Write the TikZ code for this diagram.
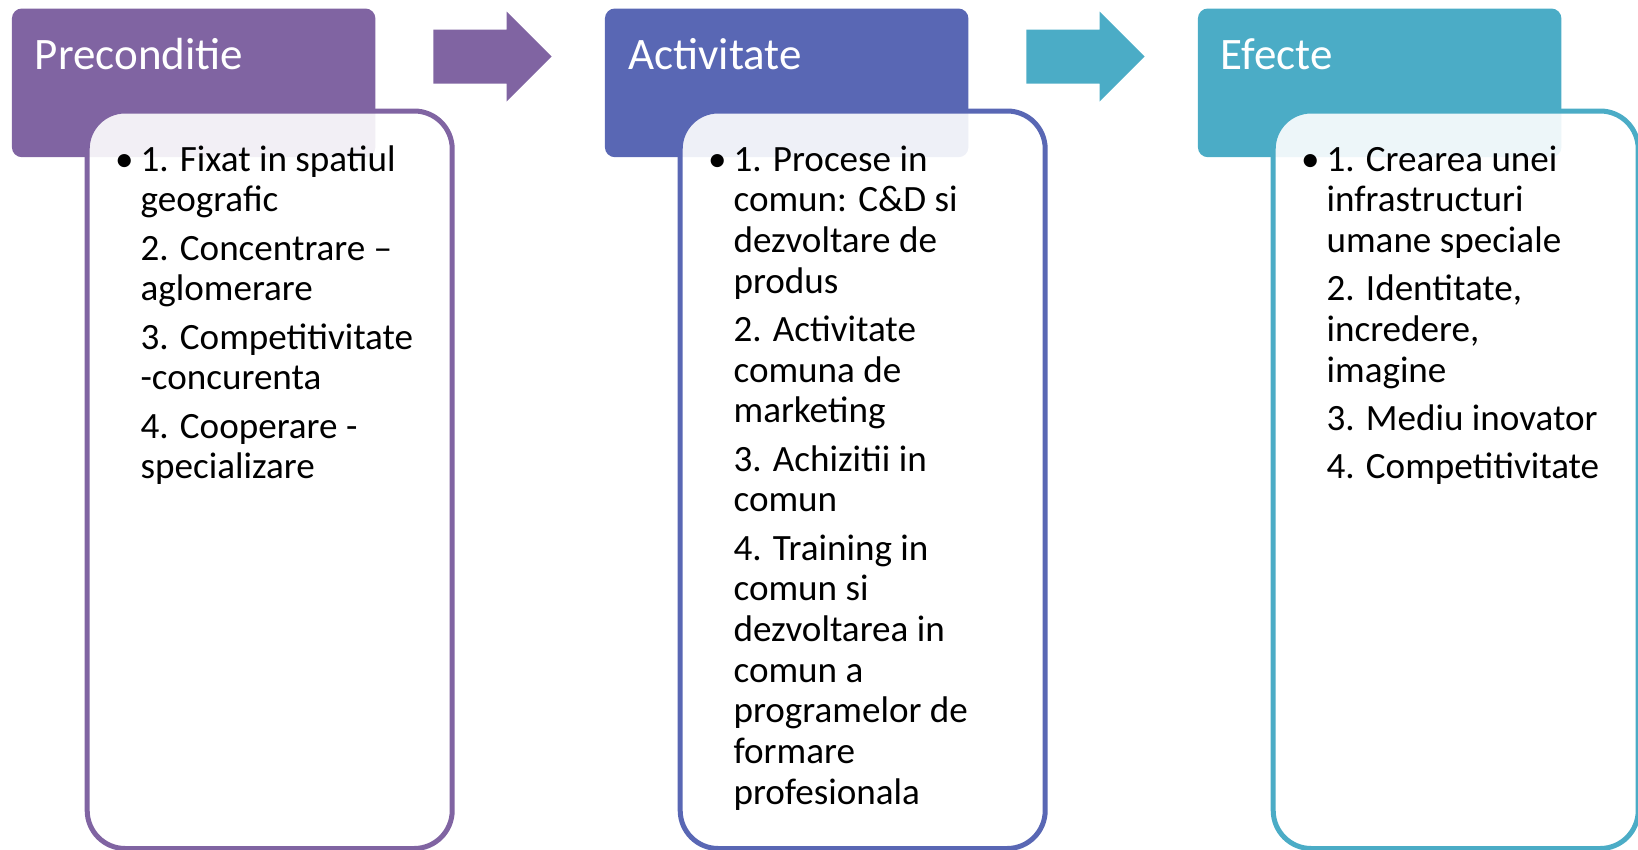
\documentclass[tikz,border=0pt]{standalone}
\usepackage{fontspec}
\setmainfont{Carlito}
\usepackage{tikz}
\usetikzlibrary{positioning}
\definecolor{prepurple}{HTML}{8064A2}
\definecolor{actblue}{HTML}{5967B4}
\definecolor{efteal}{HTML}{4BACC6}
\newcommand\headfont{\fontsize{45pt}{50pt}\selectfont}
\newcommand\bodyfont{\fontsize{37.1pt}{40.7pt}\selectfont}
\newcommand\blt{\llap{\textbullet\hspace{7pt}}}
\tikzset{
  % titluri
  hdr/.style={rectangle,rounded corners=10pt,fill=#1,inner sep=0pt,
              minimum width=363.5pt,minimum height=148.7pt,anchor=north west},
  hdrt/.style={anchor=base west,inner sep=0pt,text=white,font=\headfont},
  % casete (ancora = linia de baza a ultimului rand)
  card/.style={rectangle,rounded corners=38pt,draw=#1,line width=5pt,
               fill=white,fill opacity=0.9,inner sep=0pt,
               minimum width=365pt,minimum height=737.5pt,anchor=north west},
  cardt/.style={anchor=base west,inner sep=0pt,align=left,text=black,
                font=\bodyfont},
  blk/.style={fill=#1},
}
\begin{document}
\begin{tikzpicture}[x=1pt,y=-1pt]
\useasboundingbox (0,0) rectangle (1638,849);
  \node[hdr=prepurple] (pre) at (11.7,8.3) {};
  \node[hdr=actblue] (act) at (604.7,8.3) {};
  \node[hdr=efteal] (efe) at (1197.7,8.3) {};
  \node[hdrt] (preT) at (34.7,69.3) {Preconditie};
  \node[hdrt] (actT) at (628.2,69.3) {Activitate};
  \node[hdrt] (efeT) at (1220.7,69.3) {Efecte};
  \node[card=prepurple] (preC) at (84.7,108.5) {};
  \node[card=actblue] (actC) at (677.7,108.5) {};
  \node[card=efteal] (efeC) at (1270.7,108.5) {};
  \node[cardt] (preL) at (140.4,478.7) {\blt 1. Fixat in spatiul\\ geografic\\[7.6pt]
    2. Concentrare --\\ aglomerare\\[7.6pt]
    3. Competitivitate\\ -concurenta\\[7.6pt]
    4. Cooperare -\\ specializare};
  \node[cardt] (actL) at (733.4,804.3) {\blt 1. Procese in\\ comun: C\&D si\\ dezvoltare de\\ produs\\[7.6pt]
    2. Activitate\\ comuna de\\ marketing\\[7.6pt]
    3. Achizitii in\\ comun\\[7.6pt]
    4. Training in\\ comun si\\ dezvoltarea in\\ comun a\\ programelor de\\ formare\\ profesionala};
  \node[cardt] (efeL) at (1326.4,478.7) {\blt 1. Crearea unei\\ infrastructuri\\ umane speciale\\[7.6pt]
    2. Identitate,\\ incredere,\\ imagine\\[7.6pt]
    3. Mediu inovator\\[7.6pt]
    4. Competitivitate};
  \fill[blk=prepurple] (433.3,29.5) -- (506.7,29.5) -- (506.7,11.5) -- (551.7,56.5)
    -- (506.7,101.5) -- (506.7,83.5) -- (433.3,83.5) -- cycle;
  \fill[blk=efteal] (1026.3,29.5) -- (1099.7,29.5) -- (1099.7,11.5) -- (1144.7,56.5)
    -- (1099.7,101.5) -- (1099.7,83.5) -- (1026.3,83.5) -- cycle;
\end{tikzpicture}
\end{document}
